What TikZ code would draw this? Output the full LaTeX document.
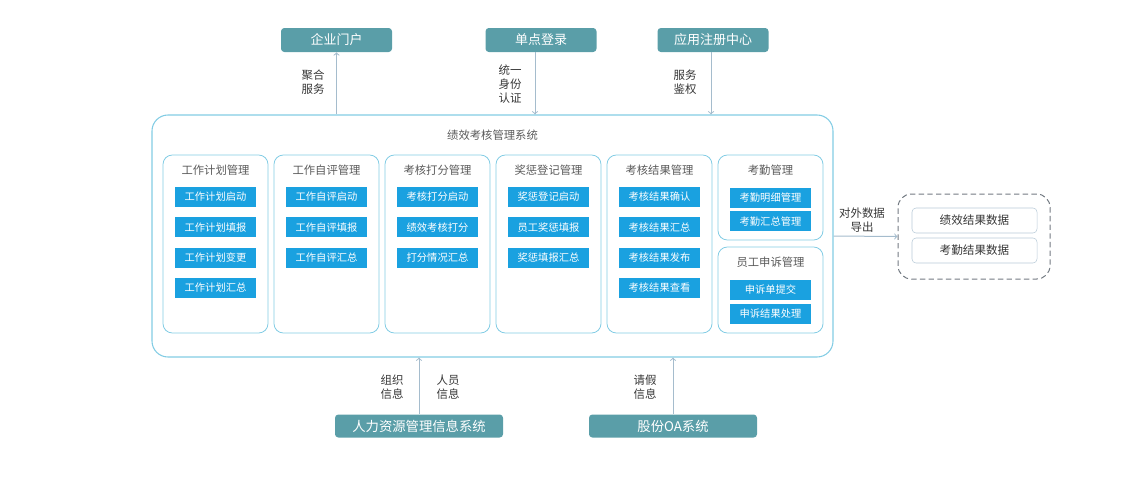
\documentclass[tikz,border=0pt]{standalone}
\usepackage{fontspec}
\setmainfont{Noto Sans CJK SC}
\usetikzlibrary{arrows,positioning}
\definecolor{tealbox}{RGB}{90,158,168}
\definecolor{itemblue}{RGB}{26,161,224}
\definecolor{frameblue}{RGB}{130,204,228}
\definecolor{arrowgray}{RGB}{165,188,205}
\definecolor{labelgray}{RGB}{55,55,55}
\definecolor{titlegray}{RGB}{90,90,90}
\definecolor{dashgray}{RGB}{115,122,130}

\begin{document}
\begin{tikzpicture}[x=0.75pt,y=-0.75pt,
    extsys/.style={fill=tealbox, text=white, rounded corners=2.5pt, inner sep=0pt,
        minimum width=83.25pt, minimum height=18pt, font=\fontsize{9.75}{11}\selectfont},
    module/.style={draw=frameblue, line width=0.6pt, rounded corners=7pt,
        minimum width=78.75pt, minimum height=133.5pt},
    mtitle/.style={text=titlegray, font=\fontsize{8.5}{10}\selectfont},
    item/.style={fill=itemblue, text=white, inner sep=0pt, minimum width=60.75pt,
        minimum height=15pt, font=\fontsize{7.7}{9}\selectfont},
    flowlabel/.style={text=labelgray, align=center, font=\fontsize{8.6}{10.5}\selectfont},
    link/.style={->, >=to, draw=arrowgray, line width=0.75pt, scale arrows/.try=1},
    datarow/.style={draw=arrowgray!80, rounded corners=3pt, minimum width=93.75pt,
        minimum height=18.75pt, text=labelgray, font=\fontsize{8.7}{10}\selectfont}
]
\useasboundingbox (0,0) rectangle (1137,483);

% main system
\node (sys) [draw=frameblue, line width=0.8pt, rounded corners=12pt,
    minimum width=510.75pt, minimum height=181.5pt] at (492.5,236) {};
\node (systitle) [text=titlegray, font=\fontsize{8.5}{10}\selectfont] at (492.5,135) {绩效考核管理系统};

\node (m1) [module] at (215.5,244) {};
\node (t1) [mtitle] at (215.5,170) {工作计划管理};
\node (m1a) [item] at (215.5,197) {工作计划启动};
\node (m1b) [item, below=7.3pt of m1a] {工作计划填报};
\node (m1c) [item, below=7.3pt of m1b] {工作计划变更};
\node (m1d) [item, below=7.3pt of m1c] {工作计划汇总};

\node (m2) [module] at (326.5,244) {};
\node (t2) [mtitle] at (326.5,170) {工作自评管理};
\node (m2a) [item] at (326.5,197) {工作自评启动};
\node (m2b) [item, below=7.3pt of m2a] {工作自评填报};
\node (m2c) [item, below=7.3pt of m2b] {工作自评汇总};

\node (m3) [module] at (437.5,244) {};
\node (t3) [mtitle] at (437.5,170) {考核打分管理};
\node (m3a) [item] at (437.5,197) {考核打分启动};
\node (m3b) [item, below=7.3pt of m3a] {绩效考核打分};
\node (m3c) [item, below=7.3pt of m3b] {打分情况汇总};

\node (m4) [module] at (548.5,244) {};
\node (t4) [mtitle] at (548.5,170) {奖惩登记管理};
\node (m4a) [item] at (548.5,197) {奖惩登记启动};
\node (m4b) [item, below=7.3pt of m4a] {员工奖惩填报};
\node (m4c) [item, below=7.3pt of m4b] {奖惩填报汇总};

\node (m5) [module] at (659.5,244) {};
\node (t5) [mtitle] at (659.5,170) {考核结果管理};
\node (m5a) [item] at (659.5,197) {考核结果确认};
\node (m5b) [item, below=7.3pt of m5a] {考核结果汇总};
\node (m5c) [item, below=7.3pt of m5b] {考核结果发布};
\node (m5d) [item, below=7.3pt of m5c] {考核结果查看};

\node (m6) [module, minimum height=63.75pt] at (770.5,197.5) {};
\node (t6) [mtitle] at (770.5,170) {考勤管理};
\node (m6a) [item] at (770.5,197.5) {考勤明细管理};
\node (m6b) [item, below=2.4pt of m6a] {考勤汇总管理};

\node (m7) [module, minimum height=64.5pt] at (770.5,290) {};
\node (t7) [mtitle] at (770.5,262) {员工申诉管理};
\node (m7a) [item] at (770.5,289.5) {申诉单提交};
\node (m7b) [item, below=2.6pt of m7a] {申诉结果处理};

% upper systems
\node (portal) [extsys] at (336.5,40) {企业门户};
\node (sso) [extsys] at (541,40) {单点登录};
\node (reg) [extsys] at (713,40) {应用注册中心};

\draw[link] (portal.south |- sys.north) -- (portal.south);
\draw[link] ([xshift=-4.5pt]sso.south) -- ([xshift=-4.5pt]sso.south |- sys.north);
\draw[link] ([xshift=-1.5pt]reg.south) -- ([xshift=-1.5pt]reg.south |- sys.north);

\node (l1) [flowlabel] at (313,82) {聚合\\服务};
\node (l2) [flowlabel] at (510,84) {统一\\身份\\认证};
\node (l3) [flowlabel] at (685,82) {服务\\鉴权};

% lower systems
\node (hr) [extsys, minimum width=126pt, minimum height=17.25pt,
    font=\fontsize{10}{12}\selectfont] at (419,426) {人力资源管理信息系统};
\node (oa) [extsys, minimum width=126pt, minimum height=17.25pt,
    font=\fontsize{10}{12}\selectfont] at (673,426) {股份OA系统};

\draw[link] (hr.north) -- (hr.north |- sys.south);
\draw[link] (oa.north) -- (oa.north |- sys.south);

\node (l4) [flowlabel] at (392,387) {组织\\信息};
\node (l5) [flowlabel] at (448,387) {人员\\信息};
\node (l6) [flowlabel] at (645,387) {请假\\信息};

% export
\node (out) [draw=dashgray, dash pattern=on 4pt off 2.5pt, line width=0.75pt,
    rounded corners=10pt, minimum width=114pt, minimum height=63.75pt] at (974,236.5) {};
\node (d1) [datarow] at (974.5,220.5) {绩效结果数据};
\node (d2) [datarow] at (974.5,250.5) {考勤结果数据};

\draw[link] (sys.east) -- (out.west);
\node (l7) [flowlabel] at (862,220) {对外数据\\导出};

\end{tikzpicture}
\end{document}
